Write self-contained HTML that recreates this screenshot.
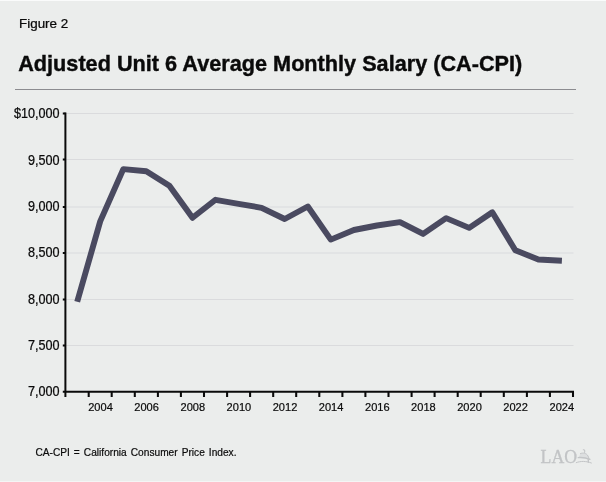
<!DOCTYPE html>
<html><head><meta charset="utf-8">
<style>
html,body{margin:0;padding:0;}
body{width:606px;height:482px;background:#ebedec;overflow:hidden;position:relative;font-family:"Liberation Sans",Arial,sans-serif;color:#0a0a0a;}
svg{position:absolute;left:0;top:0;}
text{font-family:"Liberation Sans",Arial,sans-serif;fill:#0a0a0a;}
</style></head><body>
<svg width="606" height="482" viewBox="0 0 606 482" xmlns="http://www.w3.org/2000/svg">
<rect x="0" y="0" width="606" height="1" fill="#fafbfb"/>
<rect x="0" y="481" width="606" height="1" fill="#f4f5f5"/>

<text transform="translate(19.0 27.5) scale(0.988 1)" font-size="13.6" text-anchor="start" id="fig" stroke="#0a0a0a" stroke-width="0.25">Figure 2</text>
<text transform="translate(18.2 70.65) scale(0.972 1)" font-size="22.3" text-anchor="start" id="title" font-weight="bold" stroke="#0a0a0a" stroke-width="0.4">Adjusted Unit 6 Average Monthly Salary (CA-CPI)</text>
<rect x="15" y="89" width="561" height="1" fill="#8c8c90"/>
<g fill="#dadbdd">
<rect x="66" y="113.0" width="507.5" height="1"/>
<rect x="66" y="159.0" width="507.5" height="1"/>
<rect x="66" y="206.5" width="507.5" height="1"/>
<rect x="66" y="252.5" width="507.5" height="1"/>
<rect x="66" y="299.0" width="507.5" height="1"/>
<rect x="66" y="345.0" width="507.5" height="1"/>
</g>
<g id="ylab">
<text transform="translate(59.6 118.45) scale(0.908 1)" font-size="13.9" text-anchor="end" stroke="#0a0a0a" stroke-width="0.25">$10,000</text>
<text transform="translate(59.6 164.72) scale(0.908 1)" font-size="13.9" text-anchor="end" stroke="#0a0a0a" stroke-width="0.25">9,500</text>
<text transform="translate(59.6 210.99) scale(0.908 1)" font-size="13.9" text-anchor="end" stroke="#0a0a0a" stroke-width="0.25">9,000</text>
<text transform="translate(59.6 257.26) scale(0.908 1)" font-size="13.9" text-anchor="end" stroke="#0a0a0a" stroke-width="0.25">8,500</text>
<text transform="translate(59.6 303.53) scale(0.908 1)" font-size="13.9" text-anchor="end" stroke="#0a0a0a" stroke-width="0.25">8,000</text>
<text transform="translate(59.6 349.8) scale(0.908 1)" font-size="13.9" text-anchor="end" stroke="#0a0a0a" stroke-width="0.25">7,500</text>
<text transform="translate(59.6 396.07) scale(0.908 1)" font-size="13.9" text-anchor="end" stroke="#0a0a0a" stroke-width="0.25">7,000</text>
</g>
<g stroke="#0a0a0a" stroke-width="2.05" fill="none">
<path d="M65.4 112.5V396.9" stroke-width="2.0"/>
<path d="M62.8 391.7H574.0"/>
<path d="M62.8 113.50H65.5M62.8 159.50H65.5M62.8 207.00H65.5M62.8 253.00H65.5M62.8 299.50H65.5M62.8 345.50H65.5"/>
<path d="M88.7 391.7V396.9M111.7 391.7V396.9M134.8 391.7V396.9M157.9 391.7V396.9M180.9 391.7V396.9M204.0 391.7V396.9M227.1 391.7V396.9M250.1 391.7V396.9M273.2 391.7V396.9M296.2 391.7V396.9M319.3 391.7V396.9M342.4 391.7V396.9M365.4 391.7V396.9M388.5 391.7V396.9M411.6 391.7V396.9M434.6 391.7V396.9M457.7 391.7V396.9M480.7 391.7V396.9M503.8 391.7V396.9M526.9 391.7V396.9M549.9 391.7V396.9M573.0 391.7V396.9"/>
</g>
<g id="xlab">
<text transform="translate(100.5 411.3) scale(1.015 1)" font-size="10.9" text-anchor="middle" stroke="#0a0a0a" stroke-width="0.2">2004</text>
<text transform="translate(146.6 411.3) scale(1.015 1)" font-size="10.9" text-anchor="middle" stroke="#0a0a0a" stroke-width="0.2">2006</text>
<text transform="translate(192.8 411.3) scale(1.015 1)" font-size="10.9" text-anchor="middle" stroke="#0a0a0a" stroke-width="0.2">2008</text>
<text transform="translate(238.9 411.3) scale(1.015 1)" font-size="10.9" text-anchor="middle" stroke="#0a0a0a" stroke-width="0.2">2010</text>
<text transform="translate(285.0 411.3) scale(1.015 1)" font-size="10.9" text-anchor="middle" stroke="#0a0a0a" stroke-width="0.2">2012</text>
<text transform="translate(331.1 411.3) scale(1.015 1)" font-size="10.9" text-anchor="middle" stroke="#0a0a0a" stroke-width="0.2">2014</text>
<text transform="translate(377.3 411.3) scale(1.015 1)" font-size="10.9" text-anchor="middle" stroke="#0a0a0a" stroke-width="0.2">2016</text>
<text transform="translate(423.4 411.3) scale(1.015 1)" font-size="10.9" text-anchor="middle" stroke="#0a0a0a" stroke-width="0.2">2018</text>
<text transform="translate(469.5 411.3) scale(1.015 1)" font-size="10.9" text-anchor="middle" stroke="#0a0a0a" stroke-width="0.2">2020</text>
<text transform="translate(515.6 411.3) scale(1.015 1)" font-size="10.9" text-anchor="middle" stroke="#0a0a0a" stroke-width="0.2">2022</text>
<text transform="translate(561.8 411.3) scale(1.015 1)" font-size="10.9" text-anchor="middle" stroke="#0a0a0a" stroke-width="0.2">2024</text>
</g>
<polyline id="ln" fill="none" stroke="#4a4a60" stroke-width="5.9" stroke-linejoin="round" points="77.2,301.8 100.2,221.4 123.3,169.1 146.3,171.2 169.4,185.8 192.5,217.8 215.5,199.8 238.6,203.8 261.6,207.8 284.7,219.0 307.8,206.5 330.8,239.6 353.9,230.0 377.0,225.5 400.0,222.1 423.1,233.9 446.1,218.1 469.2,227.9 492.3,212.3 515.3,250.2 538.4,259.5 561.9,260.7"/>
<text transform="translate(35.4 455.95) scale(0.968 1)" font-size="10.5" text-anchor="start" id="foot" word-spacing="1.25" stroke="#0a0a0a" stroke-width="0.2">CA-CPI = California Consumer Price Index.</text>
<text x="540.6" y="463.1" font-size="19.8" textLength="36.5" lengthAdjust="spacingAndGlyphs" id="lao" style="font-family:'Liberation Serif',serif;fill:#c2c4c6;stroke:#c2c4c6;stroke-width:0.35">LAO</text>
<g id="dome" fill="none" stroke="#c3c5c7" stroke-width="1" stroke-linecap="round"><path d="M580.4 453.8C583 452.4 586.6 453.2 588 456C588.6 457.3 589 458.4 589.1 459.4C586 458 582 457.4 578.4 457.7Z" fill="#dddfe0" stroke="none"/><path d="M576.3 462.6C580.5 461 586 460.9 591.4 463"/><path d="M578.2 457.6C582 457.3 586.5 457.9 590 459.3" stroke-width="1.3"/><path d="M580.4 453.6C583 452.4 586.6 453.2 588 456C588.6 457.3 589 458.4 589.1 459.2"/><path d="M588.3 459.4V462.2" stroke-width="1.4"/><path d="M583.3 449.8C584.6 449.6 585 450.6 584.6 452.4" stroke-width="1.1"/></g>
</svg>
</body></html>
